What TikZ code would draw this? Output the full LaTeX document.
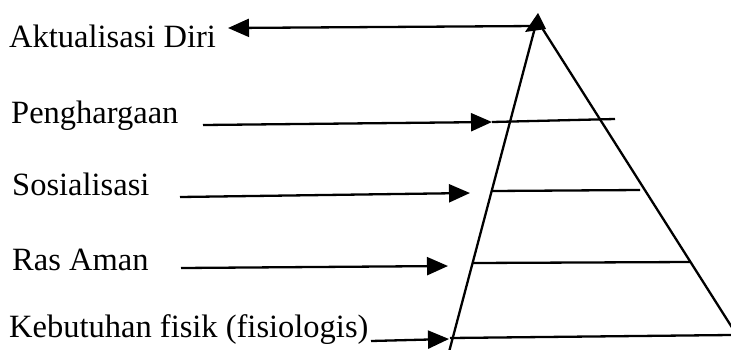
\documentclass[tikz,border=0pt]{standalone}
\usepackage{fontspec}
\setmainfont{Liberation Serif}
\usetikzlibrary{arrows.meta}
\begin{document}
\begin{tikzpicture}[x=1pt,y=-1pt,
  lbl/.style={anchor=base west, inner sep=0pt, font=\fontsize{32.5}{36}\selectfont},
  ln/.style={line width=2.3pt},
  arr/.style={ln, -{Triangle[length=21pt,width=18pt]}},
]
\useasboundingbox (0,0) rectangle (731,349);
% pyramid
\coordinate (apex) at (537,20);
\coordinate (bl) at (449,352);
\coordinate (br) at (733,329);
\draw[ln] (apex) -- (bl);
\draw[ln] (apex) -- (br);
\fill (538,13) -- (525,32) -- (546,29) -- cycle;
% labels
\node[lbl] (l1) at (9,47) {Aktualisasi Diri};
\node[lbl] (l2) at (11,123) {Penghargaan};
\node[lbl] (l3) at (12,195) {Sosialisasi};
\node[lbl] (l4) at (12,270) {Ras Aman};
\node[lbl] (l5) at (9,337) {Kebutuhan fisik (fisiologis)};
% arrow ends
\coordinate (a1s) at (536,26);  \coordinate (a1e) at (228,28);
\coordinate (a2s) at (203,125); \coordinate (a2e) at (492,122);
\coordinate (a3s) at (180,197); \coordinate (a3e) at (470,193);
\coordinate (a4s) at (181,268); \coordinate (a4e) at (448,266);
\coordinate (a5s) at (371,341); \coordinate (a5e) at (449,339);
% layer lines
\coordinate (h2s) at (492,122); \coordinate (h2e) at (615,119);
\coordinate (h3s) at (492,191); \coordinate (h3e) at (640,190);
\coordinate (h4s) at (473,263); \coordinate (h4e) at (690,262);
\coordinate (h5s) at (450,338); \coordinate (h5e) at (731,335);
\draw[arr] (a1s) -- (a1e);
\draw[arr] (a2s) -- (a2e);
\draw[arr] (a3s) -- (a3e);
\draw[arr] (a4s) -- (a4e);
\draw[arr] (a5s) -- (a5e);
\draw[ln] (h2s) -- (h2e);
\draw[ln] (h3s) -- (h3e);
\draw[ln] (h4s) -- (h4e);
\draw[ln] (h5s) -- (h5e);
\end{tikzpicture}
\end{document}
